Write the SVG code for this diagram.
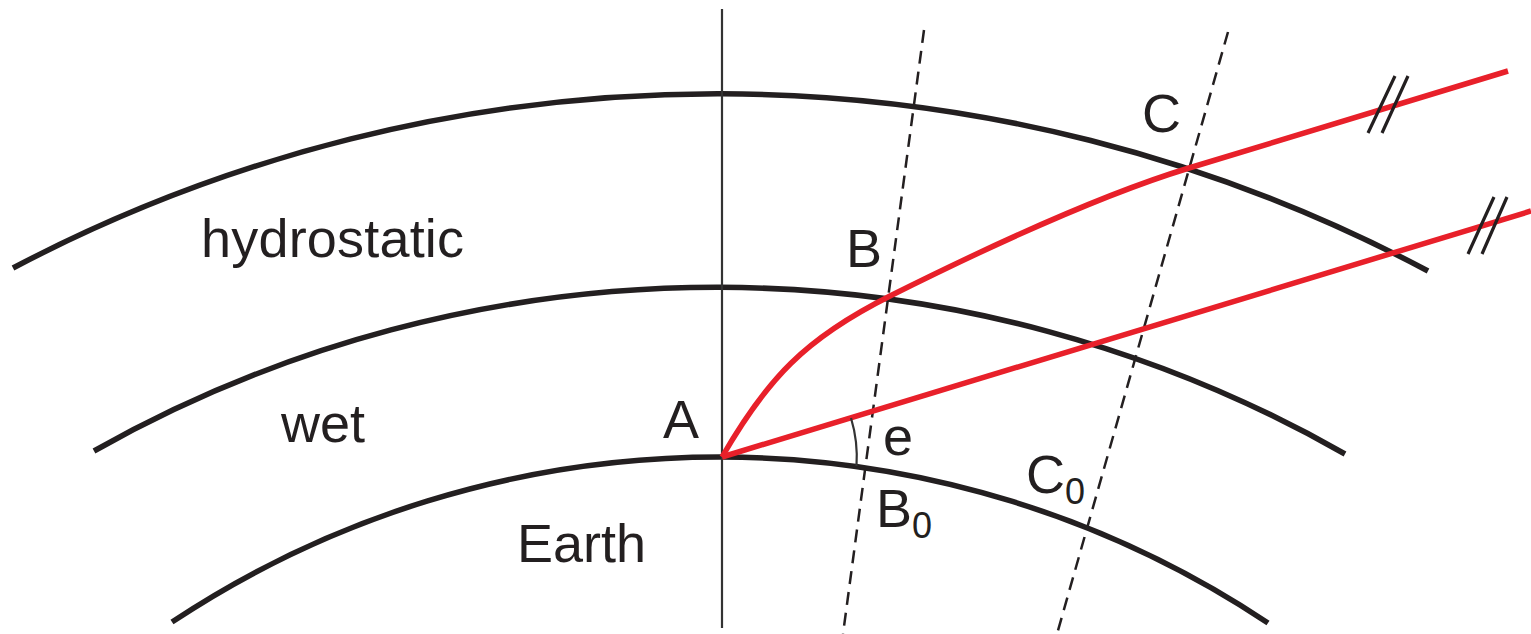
<svg xmlns="http://www.w3.org/2000/svg" width="1531" height="634" viewBox="0 0 1531 634">
<style>
.layer{fill:none;stroke:#231f20;stroke-width:5.5;stroke-linecap:butt}
.ray{fill:none;stroke:#e8202a;stroke-width:5.5;stroke-linecap:butt}
.dash{fill:none;stroke:#231f20;stroke-width:2.5;stroke-dasharray:13 8}
.thin{fill:none;stroke:#333;stroke-width:2.2}
.brk{fill:none;stroke:#231f20;stroke-width:3.2}
text{font-family:"Liberation Sans",Arial,sans-serif;fill:#231f20}
.lbl{font-size:54px}
.sub{font-size:36px}
</style>
<rect width="1531" height="634" fill="#fff"/>
<g id="layers">
<g id="hydrostatic-layer"><path class="layer" d="M13,268 A1512,1512 0 0 1 1428,271"/></g>
<g id="wet-layer"><path class="layer" d="M94,451 A1267,1267 0 0 1 1345,454"/></g>
<g id="earth-surface"><path class="layer" d="M172,622 A990,990 0 0 1 1268,623"/></g>
</g>
<g id="connectors">
<path class="thin" d="M722,9 L722,628"/>
<path class="dash" d="M924,30 L843,634"/>
<path class="dash" d="M1228,32 L1057,634"/>
<path class="ray" d="M722,457 L1531,211"/>
<path class="ray" d="M722,457 C767,379 805,338.5 890,296 C979.4,251.3 1093.3,197.1 1189,168 L1508,71"/>
<path class="thin" d="M851,418 A135,135 0 0 1 856.5,466"/>
<path class="brk" d="M1368,133 L1395,76 M1382,133 L1408,76"/>
<path class="brk" d="M1468,254 L1494,197 M1482,254 L1507,197"/>
</g>
<g id="labels">
<text class="lbl" x="201" y="257" textLength="263">hydrostatic</text>
<text class="lbl" x="281" y="442">wet</text>
<text class="lbl" x="517" y="562">Earth</text>
<text class="lbl" x="663" y="438">A</text>
<text class="lbl" x="846" y="267">B</text>
<text class="lbl" x="1142" y="132">C</text>
<text class="lbl" x="883" y="455">e</text>
<text class="lbl" x="876" y="527">B<tspan class="sub" dy="11">0</tspan></text>
<text class="lbl" x="1026" y="493">C<tspan class="sub" dy="11">0</tspan></text>
</g>
</svg>
